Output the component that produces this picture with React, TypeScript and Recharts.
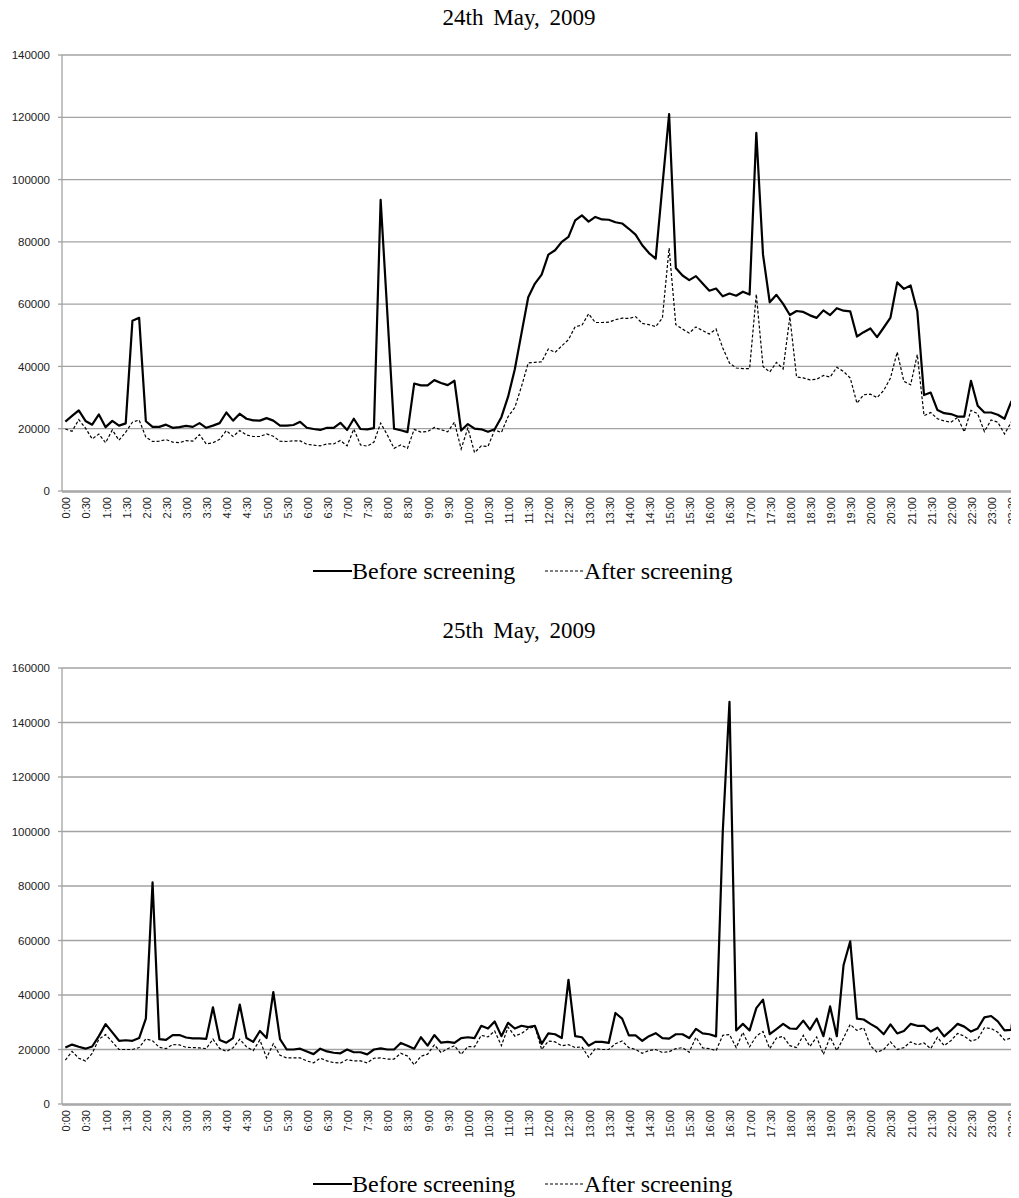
import React from 'react';
import { LineChart, Line, XAxis, YAxis, CartesianGrid } from 'recharts';

const timeLabels = [
  '0:00', '0:30', '1:00', '1:30', '2:00', '2:30', '3:00', '3:30', '4:00', '4:30', '5:00', '5:30',
  '6:00', '6:30', '7:00', '7:30', '8:00', '8:30', '9:00', '9:30', '10:00', '10:30', '11:00', '11:30',
  '12:00', '12:30', '13:00', '13:30', '14:00', '14:30', '15:00', '15:30', '16:00', '16:30', '17:00', '17:30',
  '18:00', '18:30', '19:00', '19:30', '20:00', '20:30', '21:00', '21:30', '22:00', '22:30', '23:00', '23:30',
];

// 10 minute samples, 144 per day
const before24 = [
  22300, 24100, 25900, 22500, 21300, 24600, 20500, 22500, 21000, 21700, 54700, 55600,
  22400, 20600, 20600, 21300, 20300, 20500, 20900, 20600, 21800, 20300, 21000, 21800,
  25200, 22600, 24800, 23200, 22700, 22600, 23400, 22600, 21000, 21000, 21200, 22200,
  20300, 19900, 19600, 20300, 20300, 21900, 19600, 23200, 19900, 19800, 20200, 93500,
  57000, 20000, 19500, 18900, 34500, 33900, 33900, 35600, 34700, 34000, 35400, 19400,
  21500, 20000, 19800, 19000, 19800, 23700, 30300, 39100, 50700, 62200, 66600, 69500,
  75900, 77300, 80000, 81600, 86900, 88500, 86500, 88000, 87200, 87100, 86300, 85900,
  84200, 82300, 78900, 76400, 74600, 98000, 121000, 71600, 69200, 67700, 69000, 66600,
  64300, 65000, 62500, 63400, 62700, 64000, 63100, 115000, 75900, 60600, 63000, 60100,
  56500, 57800, 57500, 56400, 55600, 58000, 56500, 58700, 57900, 57700, 49600, 51000,
  52200, 49400, 52500, 55700, 67000, 64900, 66000, 57700, 30800, 31600, 26000, 25000,
  24700, 23900, 23900, 35400, 27400, 25200, 25200, 24500, 23200, 28700, 21800, 21000,
];

const after24 = [
  19900, 19200, 22900, 20200, 16700, 18300, 15500, 19600, 16300, 18900, 22100, 22800,
  17300, 15900, 16000, 16500, 15700, 15500, 16200, 16000, 18100, 15100, 15500, 16600,
  19400, 17500, 19400, 18000, 17500, 17500, 18300, 17600, 16000, 15900, 16100, 16100,
  15000, 14700, 14500, 15100, 15100, 16200, 14500, 19900, 14800, 14400, 15700, 21800,
  18000, 13700, 14800, 13700, 19800, 18900, 19100, 20400, 19700, 19000, 22100, 13500,
  20200, 12300, 14500, 14300, 19600, 18800, 23900, 26800, 33600, 41100, 41300, 41500,
  45600, 44500, 46600, 48600, 52800, 53200, 56900, 54100, 54100, 54200, 55000, 55500,
  55400, 56000, 53800, 53400, 52800, 55500, 78000, 53400, 52000, 50700, 52700, 51500,
  50400, 52000, 45900, 41100, 39500, 39300, 39300, 63200, 40000, 38200, 41300, 39200,
  55900, 36600, 36300, 35700, 35900, 37100, 36600, 39700, 38400, 36300, 28200, 30900,
  31100, 30000, 32300, 36300, 44600, 35200, 34100, 43800, 24200, 25200, 23200, 22500,
  22100, 23600, 19000, 25900, 24800, 19100, 22800, 22100, 18300, 22100, 19100, 20000,
];

const before25 = [
  20700, 21800, 21000, 20300, 21100, 24900, 29300, 26300, 23200, 23400, 23200, 24200,
  31300, 81300, 23800, 23500, 25300, 25300, 24400, 24100, 24100, 23900, 35500, 23500,
  22500, 24200, 36500, 24200, 22800, 26800, 24200, 41100, 23800, 20000, 20000, 20300,
  19300, 18300, 20300, 19300, 18800, 18600, 20000, 19000, 19000, 18200, 20000, 20400,
  20000, 20000, 22400, 21400, 20300, 24500, 21400, 25300, 22500, 22800, 22400, 24200,
  24500, 24200, 28700, 27700, 30300, 24900, 29800, 27700, 28700, 28200, 28700, 22100,
  25900, 25600, 24200, 45600, 24900, 24500, 21400, 22800, 22800, 22400, 33400, 31300,
  25200, 25200, 23200, 24900, 26000, 24200, 24000, 25600, 25600, 24200, 27600, 25900,
  25600, 24800, 100000, 147600, 27000, 29400, 27000, 35200, 38300, 25600, 27500, 29400,
  27700, 27600, 30600, 27300, 31300, 24900, 35800, 24900, 50900, 59700, 31300, 31000,
  29400, 28000, 25600, 29200, 25900, 26800, 29400, 28700, 28700, 26600, 28000, 24800,
  27000, 29400, 28400, 26600, 27700, 31800, 32300, 30300, 27000, 27200, 47600, 50000,
];

const after25 = [
  16100, 19300, 16800, 15800, 18600, 23800, 25500, 22800, 20000, 20000, 20000, 20700,
  23900, 23200, 20800, 20300, 21800, 21700, 20800, 20700, 20600, 20300, 23800, 20400,
  19300, 20600, 23800, 21000, 19600, 23500, 16900, 22100, 17900, 16900, 16900, 16900,
  15800, 15100, 16800, 15800, 15200, 15000, 16300, 15800, 15800, 15100, 16800, 16900,
  16500, 16500, 18600, 17600, 14400, 17500, 18300, 21700, 18900, 20300, 21400, 18200,
  21100, 21000, 25200, 24600, 26800, 21400, 28200, 24900, 25900, 27700, 28400, 20000,
  23100, 22800, 21400, 21800, 20700, 21000, 17200, 20300, 20000, 20000, 22100, 23100,
  20700, 20000, 18600, 19600, 20000, 18900, 19200, 20300, 20700, 19000, 24500, 20600,
  20300, 19600, 25200, 25500, 20700, 26300, 21000, 24900, 26600, 20300, 24200, 24800,
  21400, 20700, 25200, 21100, 24600, 18200, 24600, 19600, 24200, 29200, 27000, 28000,
  21400, 19000, 20000, 22800, 20000, 20700, 22800, 21700, 22400, 20300, 24500, 21400,
  23200, 25900, 24900, 23100, 23800, 28000, 27700, 26300, 23500, 24200, 24500, 25000,
];

const yTicks24 = [0, 20000, 40000, 60000, 80000, 100000, 120000, 140000];
const yTicks25 = [0, 20000, 40000, 60000, 80000, 100000, 120000, 140000, 160000];

const SLOTS = before24.length;
const markTicks = Array.from({ length: timeLabels.length + 1 }, (_, k) => k * 3);
const labelTicks = timeLabels.map((_, k) => k * 3 + 0.5);

const GRID = '#a3a3a3';
const SANS = '"Liberation Sans", Arial, sans-serif';
const SERIF = '"Liberation Serif", "Times New Roman", serif';

const TimeTick = (props: any) => {
  const { x, y, payload } = props;
  const label = timeLabels[Math.round((payload.value - 0.5) / 3)];
  return (
    <text
      x={x + 1}
      y={y}
      transform={`rotate(-90 ${x + 1} ${y})`}
      textAnchor="end"
      dominantBaseline="central"
      fontSize={11}
      fontFamily={SANS}
      fill="#222"
    >
      {label}
    </text>
  );
};

const LegendItem = ({ left, dashed, text }: { left: number; dashed?: boolean; text: string }) => (
  <div style={{ position: 'absolute', left, top: 548, height: 30, display: 'flex', alignItems: 'center' }}>
    <svg width={39} height={4} style={{ display: 'block' }}>
      <line
        x1={0}
        y1={2}
        x2={39}
        y2={2}
        stroke="#000"
        strokeWidth={dashed ? 1.2 : 2.2}
        strokeDasharray={dashed ? '3 2' : undefined}
      />
    </svg>
    <span style={{ fontFamily: SERIF, fontSize: 24, lineHeight: '30px', whiteSpace: 'nowrap' }}>{text}</span>
  </div>
);

interface PanelProps {
  title: string;
  before: number[];
  after: number[];
  yTicks: number[];
}

const Panel = ({ title, before, after, yTicks }: PanelProps) => {
  const rows = before.map((v, i) => ({ x: i + 0.5, before: v, after: after[i] }));
  return (
    <div style={{ position: 'relative', width: 1011, height: 613 }}>
      <div
        style={{
          position: 'absolute',
          left: 11,
          width: 1000,
          top: -4,
          textAlign: 'center',
          fontFamily: SERIF,
          fontSize: 23,
          lineHeight: '27px',
          wordSpacing: 4,
        }}
      >
        {title}
      </div>
      <LineChart width={1030} height={540} data={rows} margin={{ top: 47, right: 10, bottom: 55, left: 0 }}>
        <CartesianGrid xAxisId="marks" vertical={false} stroke={GRID} strokeWidth={1.3} />
        <XAxis
          xAxisId="marks"
          type="number"
          dataKey="x"
          domain={[0, SLOTS]}
          ticks={markTicks}
          interval={0}
          tick={false}
          tickSize={5}
          height={1}
          axisLine={{ stroke: GRID, strokeWidth: 1.3 }}
          tickLine={{ stroke: GRID, strokeWidth: 1.3 }}
        />
        <XAxis
          xAxisId="labels"
          type="number"
          dataKey="x"
          domain={[0, SLOTS]}
          ticks={labelTicks}
          interval={0}
          axisLine={false}
          tickLine={false}
          tickSize={6}
          tickMargin={0}
          height={1}
          tick={<TimeTick />}
        />
        <YAxis
          domain={[0, yTicks[yTicks.length - 1]]}
          ticks={yTicks}
          interval={0}
          width={54}
          tickSize={4}
          tickMargin={8}
          axisLine={{ stroke: GRID, strokeWidth: 1.3 }}
          tickLine={{ stroke: GRID, strokeWidth: 1.3 }}
          tick={{ fontSize: 11.5, fontFamily: SANS, fill: '#222' }}
        />
        <Line
          xAxisId="marks"
          type="linear"
          dataKey="before"
          stroke="#000"
          strokeWidth={2.2}
          strokeLinejoin="round"
          dot={false}
          isAnimationActive={false}
        />
        <Line
          xAxisId="marks"
          type="linear"
          dataKey="after"
          stroke="#000"
          strokeWidth={1.2}
          strokeDasharray="3 2"
          dot={false}
          isAnimationActive={false}
        />
      </LineChart>
      <LegendItem left={305} text="Before screening" />
      <LegendItem left={537} dashed text="After screening" />
    </div>
  );
};

export default function App() {
  return (
    <div style={{ width: 1011, marginTop: -8, paddingTop: 8, overflowX: 'clip', overflowY: 'visible', background: '#fff' }}>
      <Panel title="24th May, 2009" before={before24} after={after24} yTicks={yTicks24} />
      <Panel title="25th May, 2009" before={before25} after={after25} yTicks={yTicks25} />
    </div>
  );
}
